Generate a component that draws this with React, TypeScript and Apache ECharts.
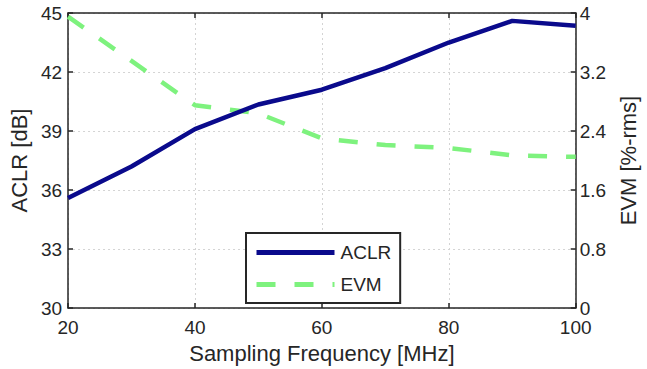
import React, { useEffect, useRef } from "react";
import * as echarts from "echarts";

const freqs = [20, 30, 40, 50, 60, 70, 80, 90, 100];
const aclr = [35.6, 37.2, 39.1, 40.35, 41.1, 42.2, 43.5, 44.6, 44.35];
const evm = [3.95, 3.35, 2.75, 2.64, 2.3, 2.21, 2.17, 2.07, 2.05];

const FONT = "Liberation Sans";
const TXT = "#262626";
const NAVY = "#0a0a8c";
const GREEN = "#7ef27e";

export default function App() {
  const ref = useRef<HTMLDivElement>(null);
  useEffect(() => {
    const chart = echarts.init(ref.current!, null, { renderer: "svg" });
    const axisLine = { show: true, lineStyle: { color: TXT, width: 1.5 } };
    const tick = { show: true, inside: true, length: 5, lineStyle: { color: TXT, width: 1.5 } };
    const split = { show: true, lineStyle: { color: "#d4d4d4", type: [2, 3], width: 1 } };
    chart.setOption({
      animation: false,
      backgroundColor: "#ffffff",
      textStyle: { fontFamily: FONT },
      grid: { left: 61, right: 61, top: 13, bottom: 59, containLabel: false },
      legend: {
        show: true,
        left: 246,
        top: 233,
        orient: "vertical",
        backgroundColor: "#ffffff",
        borderColor: TXT,
        borderWidth: 2,
        padding: [10, 9, 9, 8],
        itemWidth: 78,
        itemHeight: 14,
        itemGap: 13,
        itemStyle: { opacity: 0 },
        lineStyle: { width: 5 },
        textStyle: { fontFamily: FONT, fontSize: 19, color: TXT, padding: [0, 0, 0, 1] },
        data: [{ name: "ACLR" }, { name: "EVM" }],
      },
      xAxis: [
        {
          type: "value",
          min: 20,
          max: 100,
          interval: 20,
          name: "Sampling Frequency [MHz]",
          nameLocation: "middle",
          nameGap: 32,
          nameTextStyle: { fontFamily: FONT, fontSize: 22, color: TXT },
          axisLine,
          axisTick: tick,
          axisLabel: { fontFamily: FONT, fontSize: 19, color: TXT, margin: 10 },
          splitLine: split,
        },
        {
          type: "value",
          position: "top",
          min: 20,
          max: 100,
          interval: 20,
          axisLine,
          axisTick: tick,
          axisLabel: { show: false },
          splitLine: { show: false },
        },
      ],
      yAxis: [
        {
          type: "value",
          min: 30,
          max: 45,
          interval: 3,
          name: "ACLR [dB]",
          nameLocation: "middle",
          nameRotate: 90,
          nameGap: 32,
          nameTextStyle: { fontFamily: FONT, fontSize: 22, color: TXT },
          axisLine,
          axisTick: tick,
          axisLabel: { fontFamily: FONT, fontSize: 19, color: TXT, margin: 6 },
          splitLine: split,
        },
        {
          type: "value",
          position: "right",
          min: 0,
          max: 4,
          interval: 0.8,
          name: "EVM [%-rms]",
          nameLocation: "middle",
          nameRotate: 90,
          nameGap: 41,
          nameTextStyle: { fontFamily: FONT, fontSize: 22, color: TXT },
          axisLine,
          axisTick: tick,
          axisLabel: {
            fontFamily: FONT,
            fontSize: 19,
            color: TXT,
            margin: 4,
            formatter: (v: number) => String(Math.round(v * 10) / 10),
          },
          splitLine: { show: false },
        },
      ],
      series: [
        {
          name: "ACLR",
          type: "line",
          xAxisIndex: 0,
          yAxisIndex: 0,
          symbol: "none",
          data: freqs.map((f, i) => [f, aclr[i]]),
          lineStyle: { color: NAVY, width: 4.5 },
          itemStyle: { color: NAVY },
          z: 3,
        },
        {
          name: "EVM",
          type: "line",
          xAxisIndex: 0,
          yAxisIndex: 1,
          symbol: "none",
          data: freqs.map((f, i) => [f, evm[i]]),
          lineStyle: { color: GREEN, width: 4.5, type: [19, 19] },
          itemStyle: { color: GREEN },
          z: 2,
        },
      ],
    });
    return () => chart.dispose();
  }, []);
  return <div ref={ref} style={{ width: 647, height: 369, position: "absolute", left: 0, top: 0 }} />;
}
